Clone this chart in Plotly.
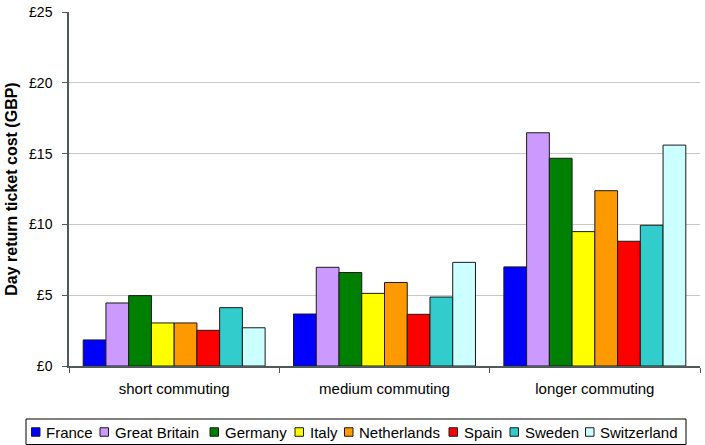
import plotly.graph_objects as go

categories = ["short commuting", "medium commuting", "longer commuting"]
countries = ["France", "Great Britain", "Germany", "Italy", "Netherlands",
             "Spain", "Sweden", "Switzerland"]
france = [1.84, 3.67, 7.0]
great_britain = [4.45, 6.97, 16.47]
germany = [4.97, 6.6, 14.67]
italy = [3.04, 5.13, 9.49]
netherlands = [3.04, 5.9, 12.38]
spain = [2.52, 3.65, 8.81]
sweden = [4.12, 4.87, 9.94]
switzerland = [2.7, 7.32, 15.6]
y_ticks = [0, 5, 10, 15, 20, 25]
y_tick_labels = ["£0", "£5", "£10", "£15", "£20", "£25"]

series = [france, great_britain, germany, italy, netherlands, spain, sweden, switzerland]
colors = ["#0000FF", "#CC99FF", "#008000", "#FFFF00", "#FF9900", "#FF0000",
          "#33CCCC", "#CCFFFF"]

W, H = 705, 445
L, R, T, B = 69, 5, 12, 79
pw = W - L - R
ph = H - T - B

FONT = "Liberation Sans, Arial, sans-serif"

fig = go.Figure()
for name, vals, col in zip(countries, series, colors):
    fig.add_trace(go.Bar(
        x=categories, y=vals, name=name,
        marker=dict(color=col, line=dict(color="#1a1a1a", width=1)),
        showlegend=False,
    ))


def px_to_paper_x(px):
    return (px - L) / pw


def px_to_paper_y(py):
    return (H - B - py) / ph


# manual one-row legend
legend_left = [31.5, 100, 210, 295, 344.5, 449, 510, 585.5]
legend_y = 432
sq = 8.5
shapes = [dict(type="rect", xref="paper", yref="paper",
               x0=px_to_paper_x(26), x1=px_to_paper_x(686),
               y0=px_to_paper_y(444.5), y1=px_to_paper_y(419),
               line=dict(color="black", width=1), fillcolor="white", layer="above")]
annotations = []
for name, col, lx in zip(countries, colors, legend_left):
    shapes.append(dict(type="rect", xref="paper", yref="paper",
                       x0=px_to_paper_x(lx), x1=px_to_paper_x(lx + sq),
                       y0=px_to_paper_y(legend_y + sq / 2), y1=px_to_paper_y(legend_y - sq / 2),
                       line=dict(color="#1a1a1a", width=1), fillcolor=col, layer="above"))
    annotations.append(dict(xref="paper", yref="paper",
                            x=px_to_paper_x(lx + sq + 4), y=px_to_paper_y(legend_y),
                            xanchor="left", yanchor="middle", showarrow=False,
                            text=name, font=dict(family=FONT, size=15, color="black")))

fig.update_layout(
    width=W, height=H,
    margin=dict(l=L, r=R, t=T, b=B, pad=0),
    paper_bgcolor="white", plot_bgcolor="white",
    barmode="group", bargap=0.135, bargroupgap=0,
    font=dict(family=FONT, color="black"),
    shapes=shapes, annotations=annotations,
    showlegend=False,
)
fig.update_xaxes(
    showline=True, linecolor="#4f5a5a", linewidth=1.5,
    ticks="outside", tickson="boundaries", ticklen=5, tickcolor="#4f5a5a",
    tickfont=dict(size=15, family=FONT, color="black"),
    ticklabelstandoff=8,
    showgrid=False, zeroline=False,
)
fig.update_yaxes(
    range=[0, 25], tickvals=y_ticks, ticktext=y_tick_labels,
    showline=True, linecolor="#4f5a5a", linewidth=1.5,
    ticks="outside", ticklen=5, tickcolor="#4f5a5a",
    tickfont=dict(size=14, family=FONT, color="black"),
    ticklabelstandoff=7,
    showgrid=True, gridcolor="#c8c8c8", gridwidth=1,
    zeroline=False,
    title=dict(text="<b>Day return ticket cost (GBP)</b>",
               font=dict(size=16, family=FONT, color="black"), standoff=7),
)

fig.write_html("out.html")
